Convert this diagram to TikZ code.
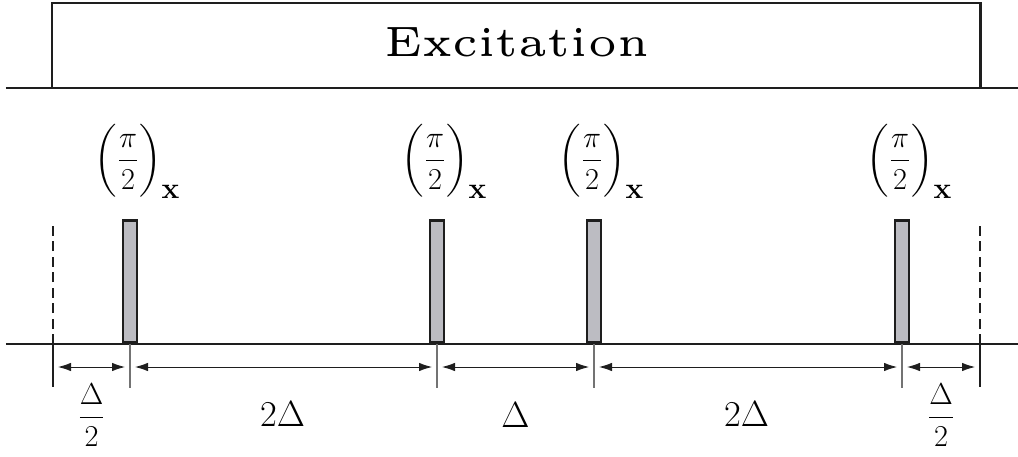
\documentclass[tikz,border=0pt]{standalone}
\usepackage{amsmath}
\usepackage{fontspec}
\usetikzlibrary{arrows.meta,positioning}

\newfontfamily\titlefont{lmroman5-regular}[Extension=.otf]

\definecolor{pulsegray}{RGB}{188,188,194}
\definecolor{inkblack}{RGB}{30,30,30}

\tikzset{
  heavy/.style={line width=1.7pt, draw=inkblack},
  pulse/.style={draw=inkblack, line width=1.5pt, fill=pulsegray, minimum width=0.28cm,
    minimum height=2.44cm, inner sep=0pt, anchor=south},
  plabel/.style={inner sep=0pt, font=\fontsize{16}{19}\selectfont},
  dlabel/.style={inner sep=0pt, font=\fontsize{20}{24}\selectfont},
  flabel/.style={inner sep=0pt, font=\fontsize{17}{20}\selectfont},
  title/.style={inner sep=0pt, font=\titlefont\fontsize{24.2}{30}\selectfont},
  pulsetick/.style={line width=0.6pt, draw=black!55},
  edgetick/.style={line width=0.6pt, draw=inkblack},
  window/.style={line width=0.8pt, draw=inkblack, dash pattern=on 0.2cm off 0.11cm},
  span/.style={{Latex[length=2.6mm,width=1.7mm]}-{Latex[length=2.6mm,width=1.7mm]},
    line width=0.5pt, draw=inkblack, shorten <=0.1cm, shorten >=0.1cm}
}

\newcommand{\halfpi}{$\biggl(\dfrac{\pi}{2}\biggr)_{\mbox{\fontsize{17}{20}\selectfont\bfseries x}}$}

\begin{document}
\begin{tikzpicture}
\useasboundingbox (0,0) rectangle (20.36,9.12);

% excitation window on top
\draw[heavy] (0.12,7.36) -- (20.36,7.36);
\draw[heavy] (1.04,7.36) |- (19.6,9.06) -- (19.6,7.36);
\node[title] (exc) at (10.33,8.27) {Excitation};

% time axis
\draw[heavy] (0.12,2.24) -- (20.36,2.24);

% window edges
\coordinate (wl) at (1.06,2.24);
\coordinate (wr) at (19.6,2.24);
\draw[window] (wl) -- ++(0,2.44);
\draw[window] (wr) -- ++(0,2.44);
\draw[edgetick] (wl) -- ++(0,-0.86);
\draw[edgetick] (wr) -- ++(0,-0.86);

% pulses
\node[pulse] (p1) at (2.6,2.24) {};
\node[pulse] (p2) at (8.74,2.24) {};
\node[pulse] (p3) at (11.88,2.24) {};
\node[pulse] (p4) at (18.04,2.24) {};
\foreach \p in {p1,p2,p3,p4}
  \draw[pulsetick] (\p.south) -- ++(0,-0.88);

% pulse labels
\node[plabel, above=0.42cm of p1, xshift=0.15cm] (l1) {\halfpi};
\node[plabel, above=0.42cm of p2, xshift=0.15cm] (l2) {\halfpi};
\node[plabel, above=0.42cm of p3, xshift=0.15cm] (l3) {\halfpi};
\node[plabel, above=0.42cm of p4, xshift=0.15cm] (l4) {\halfpi};

% delays
\coordinate (a0) at (1.06,1.78);
\coordinate (a1) at (2.6,1.78);
\coordinate (a2) at (8.74,1.78);
\coordinate (a3) at (11.88,1.78);
\coordinate (a4) at (18.04,1.78);
\coordinate (a5) at (19.6,1.78);
\draw[span] (a0) -- (a1);
\draw[span] (a1) -- (a2);
\draw[span] (a2) -- (a3);
\draw[span] (a3) -- (a4);
\draw[span] (a4) -- (a5);

\node[flabel] (d1) at (1.83,0.82) {$\dfrac{\Delta}{2}$};
\node[dlabel] (d2) at (5.65,0.84) {$2\Delta$};
\node[dlabel] (d3) at (10.31,0.82) {$\Delta$};
\node[dlabel] (d4) at (14.93,0.84) {$2\Delta$};
\node[flabel] (d5) at (18.82,0.82) {$\dfrac{\Delta}{2}$};
\end{tikzpicture}
\end{document}
